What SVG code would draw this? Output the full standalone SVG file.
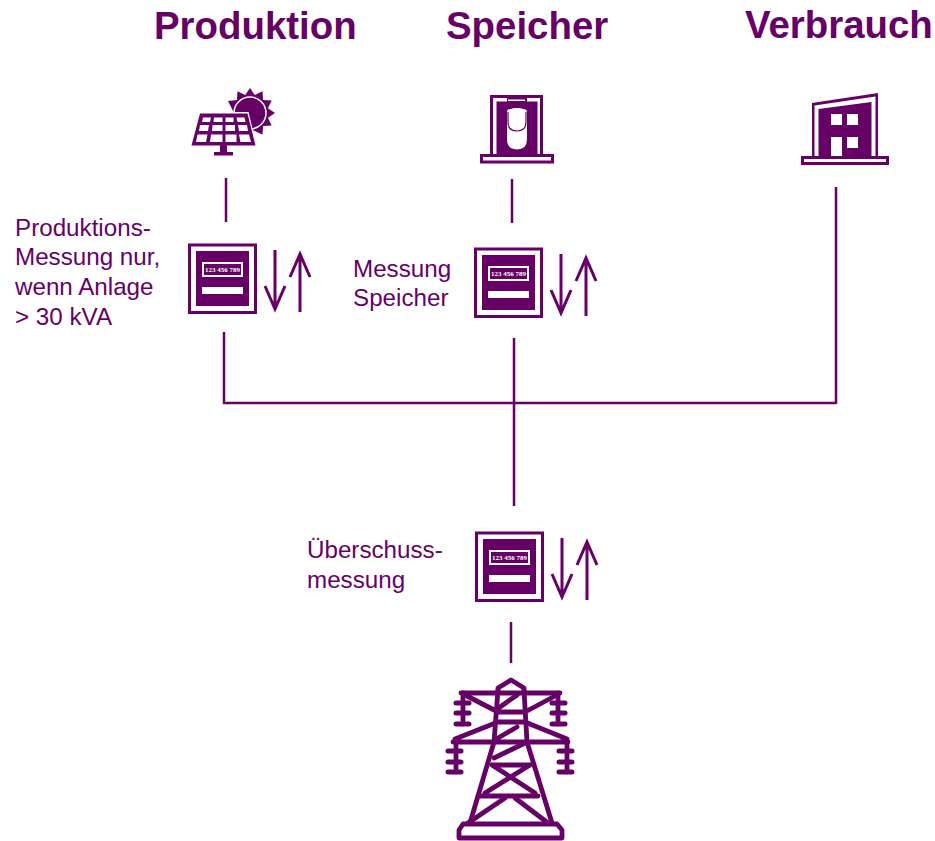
<svg xmlns="http://www.w3.org/2000/svg" width="935" height="841" viewBox="0 0 935 841">
<style>
text{font-family:"Liberation Sans",Arial,sans-serif;fill:#660066}
.t{font-size:38.400px;font-weight:700}
.l{font-size:24.200px}
.c{fill:none;stroke:#660066;stroke-width:2.500}
.p{fill:#660066}
.w{fill:#fff}
.o{fill:none;stroke:#660066}
</style>
<defs>
<g id="meter">
<rect x="189.500" y="245" width="66" height="67.500" fill="#fff" stroke="#660066" stroke-width="3"/>
<rect class="p" x="196" y="251" width="53" height="55"/>
<rect class="w" x="202" y="262" width="41" height="15"/>
<rect class="p" x="204" y="264" width="37" height="11"/>
<text x="222.500" y="272" font-size="7" font-weight="700" text-anchor="middle" style="fill:#fff;font-family:'Liberation Serif',serif">123 456 789</text>
<rect class="w" x="202" y="287" width="41" height="7"/>
</g>
<g id="arrows" class="o" stroke-width="3">
<path d="M275 250V307M265 286L275 309L285 286"/>
<path d="M300 312V255M290 277L300 254L310 277"/>
</g>
</defs>
<g id="connectors">
<path class="c" d="M226 178V222M512 179V223M224 332V403H836M836 187V404M514 338V506M511 622V663"/>
</g>
<g id="produktion">
<text class="t" x="154" y="39">Produktion</text>
<path class="p" d="M250 88L254.800 95.100L262.500 91.300L263.100 99.900L271.700 100.500L267.900 108.200L275 113L267.900 117.800L271.700 125.500L263.100 126.100L262.500 134.700L254.800 130.900L240 125L228 101L236.900 99.900L237.500 91.300L245.200 95.100Z"/>
<circle cx="250" cy="113" r="16" fill="#660066" stroke="#fff" stroke-width="1.500"/>
<path d="M198.500 112H248.500L257 147H190Z" fill="#fff"/>
<path class="p" d="M200 113.500H247.500L255.500 145.500H191.500Z"/>
<path class="w" d="M203 117.500H211L210 122H202ZM214 117.500H222.500V122H213.500ZM225.500 117.500H233.500V122H225.500ZM236.500 117.500H244.500L245.500 122H237.500ZM200 125H209L208 131H199ZM212.500 125H222.500V131H212ZM225.500 125H235V131H225.500ZM238 125H247L248 131H239ZM197.500 134.500H207.500L206 142H196ZM211 134.500H222.500V142H210ZM225.500 134.500H236.500V142H225.500ZM239 134.500H249L251 142H240.500Z"/>
<path class="p" d="M220 145H227V152H233V155.500H214V152H220Z"/>
</g>
<g id="speicher">
<text class="t" x="446" y="39">Speicher</text>
<rect x="491.500" y="96.500" width="50" height="59" fill="#fff" stroke="#660066" stroke-width="3"/>
<path class="p" d="M496.500 101.500H507V97H527V101.500H537.500V155H496.500Z"/>
<path class="w" d="M508 99.500H525V101H508Z"/>
<path class="w" d="M507 112Q507 109 511 109L514 108H520L523 109Q527 109 527 112V139Q527 149.500 517 149.500Q507 149.500 507 139Z"/>
<path d="M508 112V122Q508 131 517 131Q526 131 526 122V112" fill="none" stroke="#660066" stroke-width="1.200"/>
<rect x="481.500" y="155.500" width="71" height="6.500" fill="#fff" stroke="#660066" stroke-width="3"/>
</g>
<g id="verbrauch">
<text class="t" x="745" y="38">Verbrauch</text>
<path class="p" d="M812 103L878 93V157H812Z"/>
<path class="w" d="M814.500 105.500L875.500 96.500V157H871.500V102L818.500 109V157H814.500Z"/>
<rect class="w" x="831" y="114" width="11" height="11"/>
<rect class="w" x="847" y="114" width="11" height="11"/>
<rect class="w" x="831" y="137" width="11" height="20"/>
<rect class="w" x="847" y="137" width="11" height="11"/>
<rect x="802.500" y="157.500" width="85" height="6" fill="#fff" stroke="#660066" stroke-width="3"/>
</g>
<g id="meter-produktion">
<use href="#meter"/>
<use href="#arrows"/>
<text class="l" x="15" y="236">Produktions-</text>
<text class="l" x="15" y="265">Messung nur,</text>
<text class="l" x="15" y="295">wenn Anlage</text>
<text class="l" x="15" y="325">&gt; 30 kVA</text>
</g>
<g id="meter-speicher">
<use href="#meter" x="286" y="4"/>
<use href="#arrows" x="286" y="4"/>
<text class="l" x="353" y="277">Messung</text>
<text class="l" x="353" y="306">Speicher</text>
</g>
<g id="meter-ueberschuss">
<use href="#meter" x="287" y="288"/>
<use href="#arrows" x="287" y="288"/>
<text class="l" x="307" y="558">Überschuss-</text>
<text class="l" x="307" y="588">messung</text>
</g>
<g id="netz" fill="none" stroke="#660066" stroke-width="4.800" stroke-linejoin="round" stroke-linecap="round">
<path d="M498 693V688L511 680L524 688V693"/>
<path d="M461 693H560"/>
<path d="M467 696L498 712H525L555 696M500 707L517 695"/>
<path d="M498 690L494 742L470 823M524 690L527 742L552 823"/>
<path d="M453 742H568M455 739L498 722H525L567 739M498 738L517 727"/>
<path d="M494 758L525 743M492 765H530M492 765L535 793M530 765L485 793M478 796H538"/>
<path d="M505 798L468 823M515 798L548 823"/>
<path d="M463 824H557L562 830V838H459V830Z"/>
<path d="M463 693V724"/>
<path d="M558 693V724"/>
<path d="M456 742V772"/>
<path d="M567 742V772"/>
<path stroke-width="5" d="M456 703H469M456 713H469M456 724H469M552 703H565M552 713H565M552 724H565M448 751H461M448 762H461M448 772H461M559 751H572M559 762H572M559 772H572"/>
</g>
</svg>
